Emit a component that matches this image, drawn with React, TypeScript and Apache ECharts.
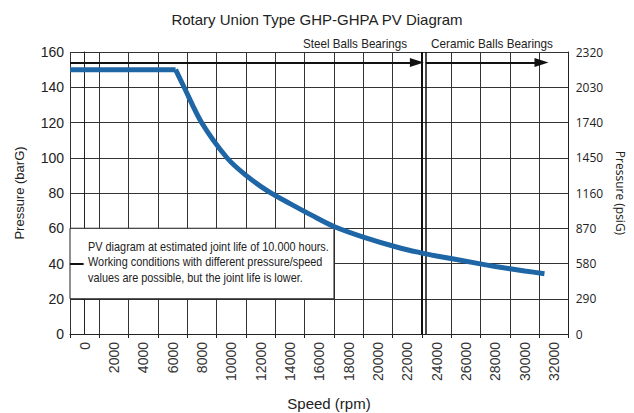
import React, { useEffect, useRef } from 'react';
import * as echarts from 'echarts';

const speedLabels = ['0', '2000', '4000', '6000', '8000', '10000', '12000', '14000', '16000', '18000', '20000', '22000', '24000', '26000', '28000', '30000', '32000'];
const pressureTicks = [0, 20, 40, 60, 80, 100, 120, 140, 160];
const psiTicks = [0, 290, 580, 870, 1160, 1450, 1740, 2030, 2320];

const flatSpeed = [-1000, 6200];
const flatPressure = [150, 150];
const curveSpeed = [6200, 6780, 7970, 9700, 11000, 12600, 14000, 15500, 17000, 19000, 21500, 22850, 24000, 26700, 28000, 30000, 31350];
const curvePressure = [150, 140, 120, 100, 90, 80.5, 74, 67.3, 61, 55, 48.8, 46.2, 44.3, 40.2, 38.3, 35.8, 34.2];

const noteLines = [
  'PV diagram at estimated joint life of 10.000 hours.',
  'Working conditions with different pressure/speed',
  'values are possible, but the joint life is lower.',
];
const steelLabel = 'Steel Balls Bearings';
const ceramicLabel = 'Ceramic Balls Bearings';

const ARIAL = "'Liberation Sans', Arial, sans-serif";
const MYRIAD = "'Open Sans', 'Liberation Sans', sans-serif";
const BLUE = '#1f66a6';
const GRID = '#333';

function measure(text: string, font: string): number {
  const ctx = document.createElement('canvas').getContext('2d');
  if (!ctx) return 1;
  ctx.font = font;
  return ctx.measureText(text).width || 1;
}

export default function App() {
  const ref = useRef<HTMLDivElement>(null);
  useEffect(() => {
    const chart = echarts.init(ref.current!, null, { renderer: 'svg' });
    const zip = (xs: number[], ys: number[]) => xs.map((x, i) => [x, ys[i]]);
    const condFont = `13px ${ARIAL}`;
    const noteScale = 241 / measure(noteLines[0], condFont);
    const steelScale = 104 / measure(steelLabel, condFont);
    const ceramicScale = 122 / measure(ceramicLabel, condFont);
    chart.setOption({
      animation: false,
      title: {
        text: 'Rotary Union Type GHP-GHPA PV Diagram',
        left: 'center',
        top: 7,
        textStyle: { fontFamily: ARIAL, fontSize: 15, fontWeight: 'normal', color: '#222' },
      },
      grid: { left: 70, right: 65, top: 52, bottom: 79, containLabel: false },
      xAxis: [
        {
          type: 'category',
          data: speedLabels,
          boundaryGap: true,
          axisLine: { lineStyle: { color: '#222', width: 1 } },
          axisTick: { show: true, length: 4, lineStyle: { color: '#222' } },
          axisLabel: { rotate: 90, fontFamily: ARIAL, fontSize: 14, color: '#333', margin: 8 },
          splitLine: { show: true, lineStyle: { color: GRID, width: 1 } },
        },
        {
          type: 'value',
          min: -1000,
          max: 33000,
          show: false,
          splitLine: { show: false },
        },
      ],
      yAxis: [
        {
          type: 'value',
          min: pressureTicks[0],
          max: pressureTicks[pressureTicks.length - 1],
          interval: 20,
          position: 'left',
          name: 'Pressure (barG)',
          nameLocation: 'middle',
          nameGap: 44,
          nameTextStyle: { fontFamily: ARIAL, fontSize: 13, color: '#222' },
          axisLine: { show: true, lineStyle: { color: '#222' } },
          axisTick: { show: true, length: 3, lineStyle: { color: '#222' } },
          axisLabel: { fontFamily: ARIAL, fontSize: 14, color: '#222', margin: 6 },
          splitLine: { show: true, lineStyle: { color: GRID, width: 1 } },
        },
        {
          type: 'value',
          min: psiTicks[0],
          max: psiTicks[psiTicks.length - 1],
          interval: 290,
          position: 'right',
          name: 'Pressure (psiG)',
          nameLocation: 'middle',
          nameRotate: -90,
          nameGap: 44,
          nameTextStyle: { fontFamily: MYRIAD, fontSize: 12, color: '#222' },
          axisLine: { show: true, lineStyle: { color: '#222' } },
          axisTick: { show: false },
          axisLabel: { fontFamily: MYRIAD, fontSize: 12, color: '#222', margin: 7, formatter: (v: number) => String(v) },
          splitLine: { show: false },
        },
      ],
      graphic: [
        { type: 'text', x: 355, y: 44, scaleX: steelScale, style: { text: steelLabel, font: condFont, fill: '#222', textAlign: 'center', textVerticalAlign: 'middle' } },
        { type: 'text', x: 492, y: 44, scaleX: ceramicScale, style: { text: ceramicLabel, font: condFont, fill: '#222', textAlign: 'center', textVerticalAlign: 'middle' } },
        { type: 'text', x: 329, y: 403, style: { text: 'Speed (rpm)', font: `15px ${ARIAL}`, fill: '#222', textAlign: 'center', textVerticalAlign: 'middle' } },
        { type: 'text', x: 88, y: 262, z: 100, scaleX: noteScale, style: { text: noteLines.join('\n'), font: condFont, lineHeight: 15.5, fill: '#222', textAlign: 'left', textVerticalAlign: 'middle' } },
      ],
      series: [
        {
          type: 'line',
          xAxisIndex: 1,
          yAxisIndex: 0,
          data: zip(flatSpeed, flatPressure),
          symbol: 'none',
          lineStyle: { color: BLUE, width: 5, cap: 'butt', join: 'miter' },
          z: 5,
          markArea: {
            silent: true,
            itemStyle: { color: '#fff', borderColor: '#222', borderWidth: 1, opacity: 1 },
            label: { show: false },
            data: [[{ xAxis: -1000, yAxis: 60 }, { xAxis: 17000, yAxis: 20 }]],
          },
          markLine: {
            silent: true,
            symbol: ['none', 'triangle'],
            symbolSize: [9, 14],
            label: { show: false },
            lineStyle: { color: '#111', width: 2, type: 'solid' },
            data: [
              [{ coord: [-1000, 154] }, { coord: [22650, 154] }],
              [{ coord: [23260, 154] }, { coord: [31150, 154] }],
              [{ coord: [23230, 0], symbol: 'none' }, { coord: [23230, 160], symbol: 'none', lineStyle: { width: 1.5 } }],
              [{ coord: [23000, 0], symbol: 'none' }, { coord: [23000, 160], symbol: 'none' }],
              [{ coord: [-1000, 40], symbol: 'none' }, { coord: [-70, 40], symbol: 'none' }],
            ],
          },
        },
        {
          type: 'line',
          xAxisIndex: 1,
          yAxisIndex: 0,
          data: zip(curveSpeed, curvePressure),
          symbol: 'none',
          smooth: 0.3,
          lineStyle: { color: BLUE, width: 5, cap: 'butt' },
          z: 5,
        },
      ],
    });
    return () => chart.dispose();
  }, []);
  return <div ref={ref} style={{ position: 'fixed', left: 0, top: 0, width: 634, height: 413, background: '#fff' }} />;
}
